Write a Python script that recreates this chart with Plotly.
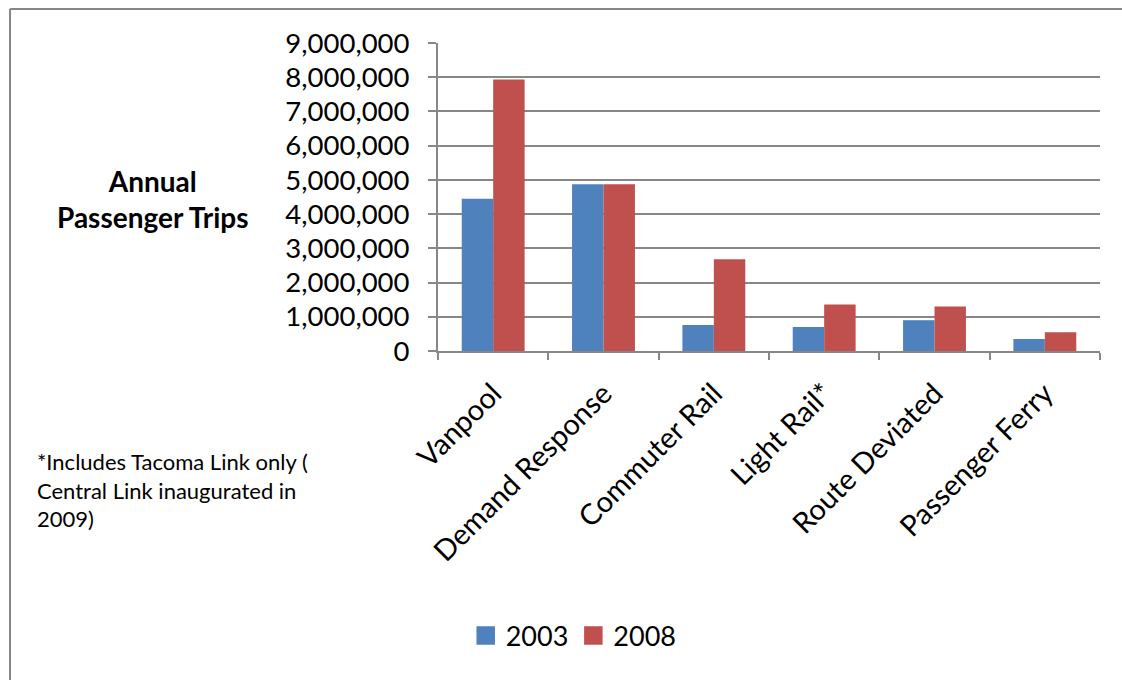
import plotly.graph_objects as go

categories = ["Vanpool", "Demand Response", "Commuter Rail", "Light Rail*",
              "Route Deviated", "Passenger Ferry"]
trips_2003 = [4450000, 4870000, 760000, 700000, 900000, 350000]
trips_2008 = [7930000, 4870000, 2680000, 1360000, 1300000, 550000]
y_ticks = [0, 1000000, 2000000, 3000000, 4000000, 5000000,
           6000000, 7000000, 8000000, 9000000]
series = [("2003", trips_2003, "#4F81BD"), ("2008", trips_2008, "#C0504D")]

FONT = "Lato"
GRID = "#878787"

fig = go.Figure()
for name, values, color in series:
    fig.add_trace(go.Bar(name=name, x=categories, y=values, showlegend=False,
                         marker=dict(color=color, line=dict(width=0))))
# square legend keys
for name, values, color in series:
    fig.add_trace(go.Scatter(name=name, x=[None], y=[None], mode="markers",
                             marker=dict(symbol="square", size=16, color=color,
                                         line=dict(color=color, width=2.5)),
                             showlegend=True))

fig.update_layout(
    width=1122, height=680,
    margin=dict(l=438, r=22, t=43, b=329),
    paper_bgcolor="white", plot_bgcolor="white",
    barmode="group", bargap=0.43, bargroupgap=0,
    font=dict(family=FONT, color="black"),
    showlegend=True,
    legend=dict(orientation="h", x=0.205, y=-0.925, xanchor="center",
                yanchor="middle", font=dict(size=27, family=FONT),
                itemwidth=30, tracegroupgap=0),
    xaxis=dict(type="category", tickangle=-45, tickson="boundaries",
               ticks="outside", ticklen=7, tickcolor=GRID, tickwidth=2,
               showline=True, linecolor=GRID, linewidth=2,
               showgrid=False, ticklabelstandoff=12,
               tickfont=dict(size=29, family=FONT)),
    yaxis=dict(range=[0, 9000000], tickvals=y_ticks, tickformat=",",
               ticks="outside", ticklen=8, tickcolor=GRID, tickwidth=2,
               showline=True, linecolor=GRID, linewidth=2,
               showgrid=True, gridcolor=GRID, gridwidth=2,
               zeroline=False, ticklabelstandoff=13,
               tickfont=dict(size=27.5, family=FONT)),
)

# chart frame: top and left edges
frame_left = (10 - 438) / 662
frame_top = (351 - 9) / 308
fig.add_shape(type="line", xref="paper", yref="paper",
              x0=frame_left, x1=1.2, y0=frame_top, y1=frame_top,
              line=dict(color=GRID, width=2))
fig.add_shape(type="line", xref="paper", yref="paper",
              x0=frame_left, x1=frame_left, y0=-1.2, y1=frame_top,
              line=dict(color=GRID, width=2))

fig.add_annotation(text="<b>Annual<br>Passenger Trips</b>", xref="paper",
                   yref="paper", x=(153 - 438) / 662, y=(351 - 199) / 308,
                   xanchor="center", yanchor="middle", showarrow=False,
                   align="center", font=dict(size=28, family=FONT))

fig.add_annotation(text="*Includes Tacoma Link only (<br>Central Link inaugurated in<br>2009)",
                   xref="paper", yref="paper", x=(35 - 438) / 662,
                   y=(351 - 446) / 308, xanchor="left", yanchor="top",
                   showarrow=False, align="left",
                   font=dict(size=22, family=FONT))

fig.write_html("out.html")
